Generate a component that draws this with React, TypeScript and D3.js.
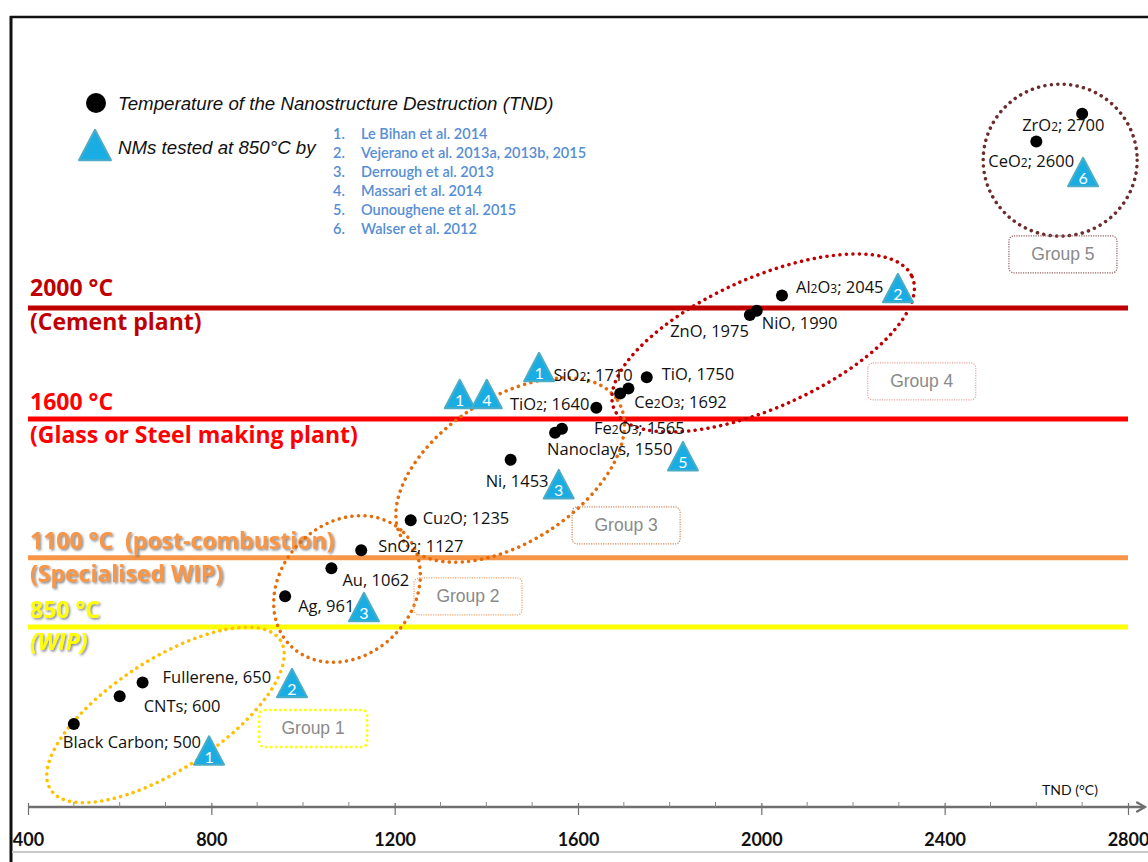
import React, { useEffect, useRef } from 'react'
import * as d3 from 'd3'

const width = 1148
const height = 862

// materials and their temperature of nanostructure destruction (°C)
const materials = ['Black Carbon', 'CNTs', 'Fullerene', 'Ag', 'Au', 'SnO2', 'Cu2O', 'Ni', 'Nanoclays', 'Fe2O3',
  'TiO2', 'Ce2O3', 'SiO2', 'TiO', 'ZnO', 'NiO', 'Al2O3', 'CeO2', 'ZrO2']
const tnd = [500, 600, 650, 961, 1062, 1127, 1235, 1453, 1550, 1565, 1640, 1692, 1710, 1750, 1975, 1990, 2045, 2600, 2700]
const separators = [';', ';', ',', ',', ',', ';', ';', ',', ',', ';', ';', ';', ';', ',', ',', ',', ';', ';', ';']

// NMs tested at 850°C (reference number, placed near the material in °C units)
const testRefs = [1, 2, 3, 3, 1, 4, 1, 5, 2, 6]
const testX = [795, 976, 1133, 1558, 1342, 1401, 1515, 1829, 2298, 2702]
const testY = [405, 648, 922, 1365, 1690, 1690, 1787, 1466, 2072, 2490]

const references = ['Le Bihan et al. 2014', 'Vejerano et al. 2013a, 2013b, 2015', 'Derrough et al. 2013',
  'Massari et al. 2014', 'Ounoughene et al. 2015', 'Walser et al. 2012']

const plantTemps = [2000, 1600, 1100, 850]
const plantTitles = ['2000 °C', '1600 °C', '1100 °C  (post-combustion)', '850 °C']
const plantNotes = ['(Cement plant)', '(Glass or Steel making plant)', '(Specialised WIP)', '(WIP)']

const groupNames = ['Group 1', 'Group 2', 'Group 3', 'Group 4', 'Group 5']

const majorTicks = [400, 800, 1200, 1600, 2000, 2400, 2800]

// layout (px offsets, colours)
const labelDx = [-11, 24, 20, 13, 11, 17, 12, -25, -8, 32, -7, 14, -75, 15, -1, 5, 14, -48, -60]
const labelDy = [24, 16, 1, 16, 18, 2, 4, 27, 22, 5, 2, 15, -7, 3, 22, 18, -3, 25, 17]
const labelEnd = [false, false, false, false, false, false, false, false, false, false, true, false, false, false, true, false, false, false, false]

const plantColors = ['#C00000', '#FF0000', '#F79646', '#FFFF00']
const plantShadow = [false, false, true, true]
const plantTitleDy = [-12, -9, -9, -9]
const plantNoteDy = [22, 24, 24, 23]

const groupCx = [700, 1096, 1452, 2004, 2652]
const groupCy = [533, 987, 1416, 1874, 2533]
const groupRx = [137, 80, 128, 163, 77]
const groupRy = [55, 66, 72, 65, 76]
const groupRot = [-33, -45, -33, -24, 0]
const groupColors = ['#FFC000', '#E46C0A', '#E46C0A', '#C00000', '#6B2C2C']
const boxX = [1022, 1360, 1705, 2350, 2658]
const boxY = [486, 962, 1218, 1737, 2195]
const boxColors = ['#FFFF00', '#F3A46B', '#D08A5C', '#E8A3A3', '#8E6060']

const x = d3.scaleLinear().domain([400, 2800]).range([28, 1128])
const y = d3.scaleLinear().domain([850, 2000]).range([627, 308])

const labelFont = '"Open Sans", Lato, sans-serif'
const refFont = 'Lato, "Open Sans", sans-serif'
const arial = '"Liberation Sans", Arial, sans-serif'

const Formula = ({ name }: { name: string }) => {
  const parts = name.match(/[0-9]+|[^0-9]+/g) || []
  return (
    <>
      {parts.map((p, i) => /^[0-9]+$/.test(p)
        ? <tspan key={i} fontSize='12'>{p}</tspan>
        : <tspan key={i}>{p}</tspan>)}
    </>
  )
}

const Triangle = ({ cx, cy, size, label }: { cx: number, cy: number, size: number, label?: number }) => {
  const h = size * 0.95
  const path = `M${cx},${cy - h / 2} L${cx + size / 2},${cy + h / 2} L${cx - size / 2},${cy + h / 2} Z`
  return (
    <g>
      <path d={path} fill='#1AADE3' stroke='#4BACC6' strokeWidth='2' strokeLinejoin='round' />
      {label !== undefined &&
        <text x={cx} y={cy + h / 2 - 2} textAnchor='middle' fill='#fff' fontSize='16' fontFamily={refFont}>{label}</text>}
    </g>
  )
}

const App = () => {
  const axisRef = useRef<SVGGElement>(null)

  useEffect(() => {
    const g = d3.select(axisRef.current)
    g.selectAll('*').remove()
    g.call(d3.axisBottom(x).tickValues(majorTicks).tickSize(8).tickPadding(18).tickFormat(d3.format('d')) as any)
    g.select('.domain').remove()
    g.selectAll('.tick line').attr('y1', -4).attr('stroke', '#6f6f6f').attr('stroke-width', 1.2)
    g.selectAll('.tick text')
      .attr('fill', '#111')
      .attr('font-size', 18)
      .attr('font-weight', 'bold')
      .attr('font-family', refFont)
  }, [])

  const axisY = 807
  const minorTicks = x.ticks(24).filter(t => !majorTicks.includes(t))

  return (
    <svg width={width} height={height} style={{ position: 'absolute', left: 0, top: 0, background: '#fff' }}>
      <defs>
        <filter id='shadow' x='-5%' y='-20%' width='110%' height='160%'>
          <feDropShadow dx='1.5' dy='1.5' stdDeviation='1' floodColor='#555' floodOpacity='0.7' />
        </filter>
        <marker id='arrow' viewBox='0 0 10 10' refX='8' refY='5' markerWidth='5' markerHeight='5' orient='auto'>
          <path d='M1,1 L8,5 L1,9' fill='none' stroke='#6f6f6f' strokeWidth='1.8' />
        </marker>
      </defs>

      {/* frame */}
      <line x1={10} x2={width} y1={17} y2={17} stroke='#111' strokeWidth='2.5' />
      <line x1={11} x2={11} y1={16} y2={height} stroke='#111' strokeWidth='3' />
      <line x1={12} x2={width} y1={852} y2={852} stroke='#c8c8c8' strokeWidth='2' />

      {/* industrial temperature lines */}
      {plantTemps.map((t, i) => (
        <g key={t}>
          <line x1={x(400)} x2={x(2800)} y1={y(t)} y2={y(t)} stroke={plantColors[i]} strokeWidth='5' />
          <text x={30} y={y(t) + plantTitleDy[i]} fill={plantColors[i]} fontSize='23' fontWeight='bold'
            fontFamily={labelFont} style={{ whiteSpace: 'pre' }} filter={plantShadow[i] ? 'url(#shadow)' : undefined}>
            {plantTitles[i]}
          </text>
          <text x={30} y={y(t) + plantNoteDy[i]} fill={plantColors[i]} fontSize='23' fontWeight='bold'
            fontStyle={i === 3 ? 'italic' : 'normal'}
            fontFamily={labelFont} filter={plantShadow[i] ? 'url(#shadow)' : undefined}>
            {plantNotes[i]}
          </text>
        </g>
      ))}

      {/* group outlines */}
      {groupNames.map((g, i) => (
        <g key={g}>
          <ellipse cx={x(groupCx[i])} cy={y(groupCy[i])} rx={groupRx[i]} ry={groupRy[i]}
            transform={`rotate(${groupRot[i]} ${x(groupCx[i])} ${y(groupCy[i])})`}
            fill='none' stroke={groupColors[i]} strokeWidth='3.5' strokeDasharray='0.1 6.4' strokeLinecap='round' />
          <rect x={x(boxX[i]) - 54} y={y(boxY[i]) - 18} width={108} height={37} rx={5}
            fill='none' stroke={boxColors[i]} strokeWidth={i === 0 ? 2.5 : 1.2} strokeDasharray={i === 0 ? '2.5 2.5' : '1.2 1.2'} />
          <text x={x(boxX[i])} y={y(boxY[i]) + 6} textAnchor='middle' fill='#8a8a8a' fontSize='17.5'
            fontFamily={arial}>{g}</text>
        </g>
      ))}

      {/* material points */}
      {materials.map((m, i) => (
        <g key={m}>
          <circle cx={x(tnd[i])} cy={y(tnd[i])} r={6} fill='#000' />
          <text x={x(tnd[i]) + labelDx[i]} y={y(tnd[i]) + labelDy[i]} textAnchor={labelEnd[i] ? 'end' : 'start'}
            fontSize='16.5' fill='#111' fontFamily={labelFont}>
            <Formula name={m} />{`${separators[i]} ${tnd[i]}`}
          </text>
        </g>
      ))}

      {/* NMs tested at 850°C */}
      {testRefs.map((r, i) => (
        <Triangle key={i} cx={x(testX[i])} cy={y(testY[i])} size={30} label={r} />
      ))}

      {/* legend */}
      <circle cx={96} cy={103} r={10} fill='#000' />
      <text x={118} y={110} fontSize='18.7' fontStyle='italic' fill='#111' fontFamily={arial}>
        Temperature of the Nanostructure Destruction (TND)
      </text>
      <Triangle cx={95} cy={145} size={32} />
      <text x={118} y={154} fontSize='18.7' fontStyle='italic' fill='#111' fontFamily={arial}>
        NMs tested at 850°C by
      </text>
      {references.map((r, i) => (
        <g key={r} fill='#558ED5' fontSize='14.5' fontWeight='600' fontFamily={refFont}>
          <text x={333} y={139 + i * 19}>{`${i + 1}.`}</text>
          <text x={361} y={139 + i * 19}>{r}</text>
        </g>
      ))}

      {/* axis */}
      <line x1={x(400)} x2={1145} y1={axisY} y2={axisY} stroke='#6f6f6f' strokeWidth='2.5' markerEnd='url(#arrow)' />
      {minorTicks.map(t => (
        <line key={t} x1={x(t)} x2={x(t)} y1={axisY - 5} y2={axisY} stroke='#8a8a8a' strokeWidth='1' />
      ))}
      <g ref={axisRef} transform={`translate(0, ${axisY})`} />
      <text x={1070} y={795} textAnchor='middle' fontSize='14' fill='#111' fontFamily={refFont}>TND (°C)</text>
    </svg>
  )
}

export default App
